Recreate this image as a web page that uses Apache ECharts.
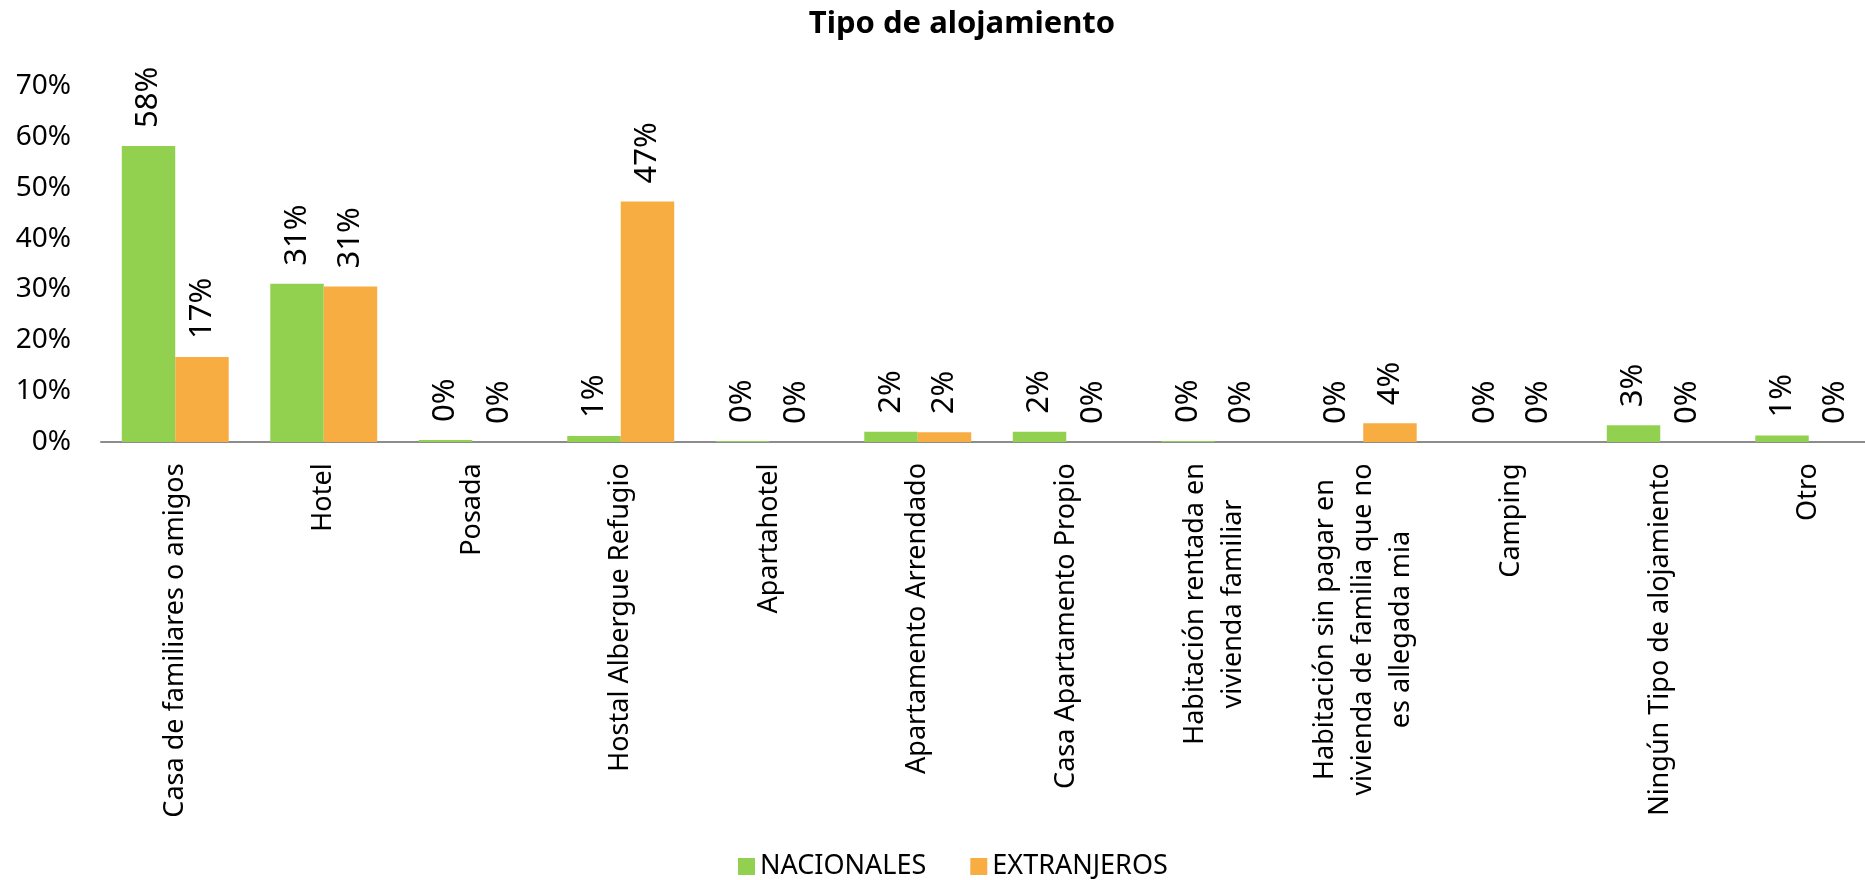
<!DOCTYPE html>
<html>
<head>
<meta charset="utf-8">
<script src="https://cdn.jsdelivr.net/npm/echarts@6/dist/echarts.min.js"></script>
<style>
  html, body { margin: 0; padding: 0; background: #fff; overflow: hidden; }
  /* el area del grafico del original sigue un poco mas alla del borde derecho */
  #chart { width: 1883px; height: 880px; }
</style>
</head>
<body>
<div id="chart"></div>
<script>
const categories = [
  'Casa de familiares o amigos',
  'Hotel',
  'Posada',
  'Hostal Albergue Refugio',
  'Apartahotel',
  'Apartamento Arrendado',
  'Casa Apartamento Propio',
  'Habitación rentada en\nvivienda familiar',
  'Habitación sin pagar en\nvivienda de familia que no\nes allegada mia',
  'Camping',
  'Ningún Tipo de alojamiento',
  'Otro'
]
const nacionales = [0.582, 0.311, 0.004, 0.012, 0.002, 0.020, 0.020, 0.002, 0, 0, 0.033, 0.013]
const extranjeros = [0.167, 0.306, 0, 0.473, 0, 0.019, 0, 0, 0.037, 0, 0, 0]
const yTicks = [0, 0.1, 0.2, 0.3, 0.4, 0.5, 0.6, 0.7]

const FONT = '"Noto Sans", sans-serif'
const catSize = 27

// lineas centradas en las etiquetas de varias lineas
const ctx = document.createElement('canvas').getContext('2d')
ctx.font = catSize + 'px "Noto Sans"'
const rich = {}
categories.forEach((c, i) => {
  const w = Math.max(...c.split('\n').map(l => ctx.measureText(l).width))
  rich['c' + i] = { width: Math.ceil(w) + 2, align: 'center', fontSize: catSize, fontFamily: FONT, color: '#000', lineHeight: 38 }
})

const pct = v => Math.round(v * 100) + '%'

const barLabel = {
  show: true,
  position: 'top',
  rotate: 90,
  align: 'left',
  verticalAlign: 'middle',
  distance: 18,
  fontSize: 31,
  fontFamily: FONT,
  color: '#000',
  formatter: p => pct(p.value)
}

let chart = echarts.init(document.getElementById('chart'))
chart.setOption({
  animation: false,
  title: {
    text: 'Tipo de alojamiento',
    left: 957,
    textAlign: 'center',
    top: 4,
    textStyle: { fontSize: 31, fontWeight: 'bold', fontFamily: FONT, color: '#000' }
  },
  legend: {
    top: 853,
    left: 738,
    padding: 0,
    itemWidth: 17,
    itemHeight: 17,
    itemGap: 44,
    icon: 'rect',
    textStyle: { fontSize: 27, fontFamily: FONT, color: '#000' },
    data: ['NACIONALES', 'EXTRANJEROS']
  },
  grid: {
    left: 101,
    right: 0,
    top: 86,
    bottom: 438,
    containLabel: false
  },
  xAxis: {
    type: 'category',
    data: categories,
    axisLine: { show: true, lineStyle: { color: '#8c8c8c', width: 2 } },
    axisTick: { show: false },
    axisLabel: {
      interval: 0,
      rotate: 90,
      margin: 20,
      rich: rich,
      formatter: (value, index) => value.split('\n').map(l => '{c' + index + '|' + l + '}').join('\n')
    }
  },
  yAxis: {
    type: 'value',
    min: yTicks[0],
    max: yTicks[yTicks.length - 1],
    interval: 0.1,
    axisLine: { show: false },
    axisTick: { show: false },
    splitLine: { show: false },
    axisLabel: {
      margin: 30,
      fontSize: 28,
      fontFamily: FONT,
      color: '#000',
      formatter: v => pct(v)
    }
  },
  series: [
    {
      name: 'NACIONALES',
      type: 'bar',
      data: nacionales,
      barGap: '0%',
      barCategoryGap: '28%',
      itemStyle: { color: '#92d050' },
      label: barLabel
    },
    {
      name: 'EXTRANJEROS',
      type: 'bar',
      data: extranjeros,
      barGap: '0%',
      barCategoryGap: '28%',
      itemStyle: { color: '#f7ad42' },
      label: barLabel
    }
  ]
})
</script>
</body>
</html>
